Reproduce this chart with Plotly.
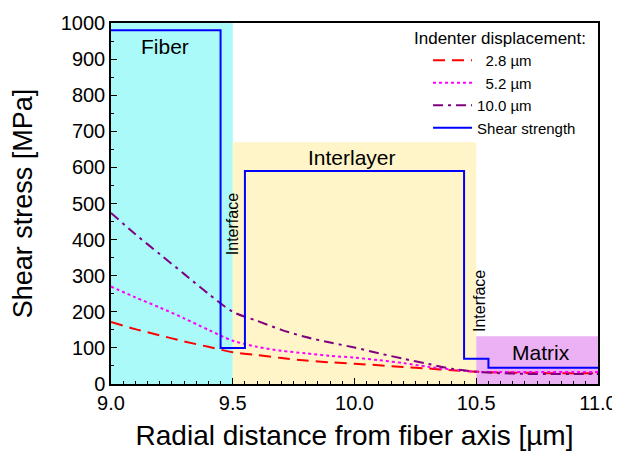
import plotly.graph_objects as go

# Radial positions (µm)
r = [9.0, 9.1, 9.2, 9.3, 9.4, 9.5, 9.6, 9.7, 9.8, 9.9, 10.0,
     10.1, 10.2, 10.3, 10.4, 10.5, 10.6, 10.7, 10.8, 10.9, 11.0]
# Shear stress (MPa) for each indenter displacement
tau_2_8 = [172, 152, 135, 118, 103, 88, 80, 72, 65, 60, 56,
           52, 47, 43, 38, 34, 32, 31, 30, 30, 30]
tau_5_2 = [270, 240, 212, 182, 150, 120, 103, 92, 85, 78, 73,
           66, 58, 48, 40, 34, 33, 33, 33, 33, 33]
tau_10_0 = [474, 415, 360, 305, 250, 200, 175, 150, 130, 115, 101,
            85, 70, 56, 42, 34, 30, 28, 28, 28, 28]

# Shear strength step profile
strength_r = [9.0, 9.45, 9.55, 10.45, 10.55, 11.0]
strength_tau = [980, 100, 590, 70, 45, 45]

# Regions
regions_name = ["Fiber", "Interlayer", "Matrix"]
regions_x0 = [9.0, 9.5, 10.5]
regions_x1 = [9.5, 10.5, 11.0]
regions_top = [1000, 670, 132]
region_colors = ["#AAFAFA", "#FFF5C8", "#ECB0F5"]

x_tickvals = [9.0, 9.5, 10.0, 10.5, 11.0]
x_ticktext = ["9.0", "9.5", "10.0", "10.5", "11.0"]

FONT = "Liberation Sans, Arial, sans-serif"

fig = go.Figure()

for x0, x1, top, c in zip(regions_x0, regions_x1, regions_top, region_colors):
    fig.add_shape(type="rect", x0=x0, x1=x1, y0=0, y1=top, xref="x", yref="y",
                  fillcolor=c, line_width=0, layer="below")

fig.add_trace(go.Scatter(x=r, y=tau_2_8, mode="lines", name="\u20072.8 \u00b5m",
                         line=dict(color="#FF0000", width=2, dash="12px,7px", shape="spline", smoothing=0.8)))
fig.add_trace(go.Scatter(x=r, y=tau_5_2, mode="lines", name="\u20075.2 \u00b5m",
                         line=dict(color="#FF00FF", width=2, dash="dot", shape="spline", smoothing=0.8)))
fig.add_trace(go.Scatter(x=r, y=tau_10_0, mode="lines", name="10.0 \u00b5m",
                         line=dict(color="#800080", width=2, dash="10px,5px,3px,5px", shape="spline", smoothing=0.8)))
fig.add_trace(go.Scatter(x=strength_r, y=strength_tau, mode="lines", name="Shear strength",
                         line=dict(color="#0000FF", width=2, shape="hv")))

# Region labels
fig.add_annotation(x=9.22, y=935, text="Fiber", showarrow=False, font=dict(size=21, family=FONT, color="black"))
fig.add_annotation(x=9.99, y=628, text="Interlayer", showarrow=False, font=dict(size=21, family=FONT, color="black"))
fig.add_annotation(x=10.765, y=88, text="Matrix", showarrow=False, font=dict(size=21, family=FONT, color="black"))
fig.add_annotation(x=9.5, y=442, text="Interface", showarrow=False, textangle=-90,
                   font=dict(size=16, family=FONT, color="black"))
fig.add_annotation(x=10.513, y=231, text="Interface", showarrow=False, textangle=-90,
                   font=dict(size=16, family=FONT, color="black"))

# Legend heading
fig.add_annotation(xref="paper", yref="paper", x=0.98, y=0.958, xanchor="right", yanchor="middle",
                   text="Indenter displacement:", showarrow=False,
                   font=dict(size=17, family=FONT, color="black"))

# page has an 8px body margin; compensate so the plot area lands where the reference has it
fig.update_layout(
    width=612, height=443,
    margin=dict(l=103, r=22, t=15, b=67),
    paper_bgcolor="white", plot_bgcolor="white",
    font=dict(family=FONT, color="black"),
    showlegend=True,
    legend=dict(
        x=0.651, xanchor="left", y=0.942, yanchor="top",
        bgcolor="rgba(0,0,0,0)", font=dict(size=15, family=FONT),
        tracegroupgap=0, itemwidth=39,
    ),
)

fig.update_xaxes(
    range=[9.0, 11.0], tickvals=x_tickvals, ticktext=x_ticktext,
    ticks="inside", ticklen=6, tickwidth=1, tickcolor="black",
    minor=dict(dtick=0.05, ticks="inside", ticklen=3, tickcolor="black"),
    showline=True, linecolor="black", linewidth=1.5, mirror=True,
    showgrid=False, zeroline=False, automargin=False,
    tickfont=dict(size=20, family=FONT),
    title=dict(text="Radial distance from fiber axis [\u00b5m]", font=dict(size=28, family=FONT), standoff=14),
)
fig.update_yaxes(
    range=[0, 1000], dtick=100,
    ticks="inside", ticklen=6, tickwidth=1, tickcolor="black",
    minor=dict(dtick=50, ticks="inside", ticklen=3, tickcolor="black"),
    showline=True, linecolor="black", linewidth=1.5, mirror=True,
    showgrid=False, zeroline=False, automargin=False,
    tickfont=dict(size=20, family=FONT),
    title=dict(text="Shear stress [MPa]", font=dict(size=27, family=FONT), standoff=24),
)

fig.write_html("out.html")
